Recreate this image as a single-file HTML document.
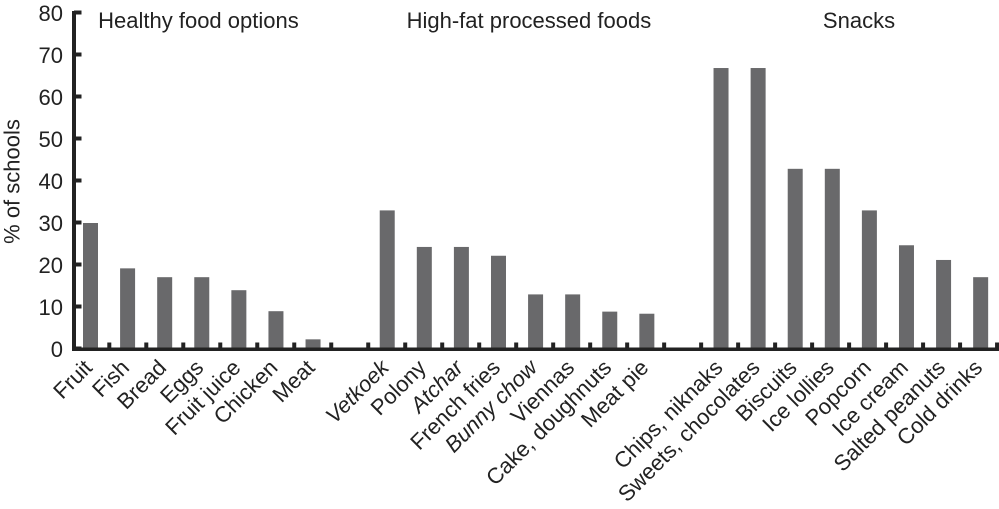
<!DOCTYPE html>
<html>
<head>
<meta charset="utf-8">
<title>Food sold at schools</title>
<style>
html,body{margin:0;padding:0;background:#fff;width:999px;height:509px;overflow:hidden}
svg{display:block}
text{font-family:"Liberation Sans",sans-serif;fill:#222}
</style>
</head>
<body>
<svg id="chart" width="999" height="509" viewBox="0 0 999 509" xmlns="http://www.w3.org/2000/svg"></svg>
<script>
const categories = ["Fruit","Fish","Bread","Eggs","Fruit juice","Chicken","Meat","","Vetkoek","Polony","Atchar","French fries","Bunny chow","Viennas","Cake, doughnuts","Meat pie","","Chips, niknaks","Sweets, chocolates","Biscuits","Ice lollies","Popcorn","Ice cream","Salted peanuts","Cold drinks"];
const values = [30,19.2,17.1,17.1,14,9,2.3,null,33,24.3,24.3,22.2,13,13,8.9,8.4,null,66.9,66.9,42.9,42.9,33,24.7,21.2,17.1];
const italicCategories = ["Vetkoek","Atchar","Bunny chow"];
const yTicks = [0,10,20,30,40,50,60,70,80];
const groupTitles = ["Healthy food options","High-fat processed foods","Snacks"];
const groupSlots = [2.91,11.82,20.72];

const svg = document.getElementById('chart');
const NS = 'http://www.w3.org/2000/svg';
const y0 = 349, yPerUnit = 4.2;
const x0 = 90.5, slot = 37.09;
const tick0 = 109.3, tickStep = 36.99;
const fontSize = 22;
const yScale = v => y0 - v * yPerUnit;
const xScale = i => x0 + i * slot;
const tickScale = i => tick0 + i * tickStep;

function make(tag, attrs, text) {
  const el = document.createElementNS(NS, tag);
  for (const k in attrs) el.setAttribute(k, attrs[k]);
  if (text !== undefined) el.textContent = text;
  svg.appendChild(el);
  return el;
}

categories.forEach((c, i) => {
  if (values[i] === null) return;
  const b = make('rect', {x: xScale(i) - 7.5, y: yScale(values[i]), width: 15, height: y0 - yScale(values[i]), fill: '#69696b'});
  
  
});

const axisY = make('rect', {x: 72, y: yScale(80) - 2, width: 4, height: y0 - yScale(80) + 4, fill: '#222'});


const axisX = make('rect', {x: 72, y: y0 - 1.5, width: 927, height: 3.5, fill: '#222'});



yTicks.forEach(t => {
  const m = make('rect', {x: 74, y: yScale(t) - 2.5, width: 7.5, height: 4, fill: '#222'});
  
  
  const l = make('text', {x: 63, y: yScale(t) + 8, 'text-anchor': 'end', 'font-size': fontSize}, String(t));
  
  
});

categories.forEach((c, i) => {
  const m = make('rect', {x: tickScale(i) - 2, y: y0 - 6.5, width: 4, height: 7, fill: '#222'});
  
  
  if (!c) return;
  const lx = xScale(i) + 3, ly = 369;
  const attrs = {x: lx, y: ly, 'text-anchor': 'end', 'font-size': fontSize, transform: 'rotate(-45 ' + lx + ' ' + ly + ')'};
  if (italicCategories.includes(c)) attrs['font-style'] = 'italic';
  const l = make('text', attrs, c);
  
  
});

groupTitles.forEach((g, i) => {
  const l = make('text', {x: xScale(groupSlots[i]), y: 28, 'text-anchor': 'middle', 'font-size': fontSize}, g);
  
  
});

const yTitle = make('text', {x: 19.5, y: 181.5, 'text-anchor': 'middle', 'font-size': fontSize, transform: 'rotate(-90 19.5 181.5)'}, '% of schools');


</script>
</body>
</html>
